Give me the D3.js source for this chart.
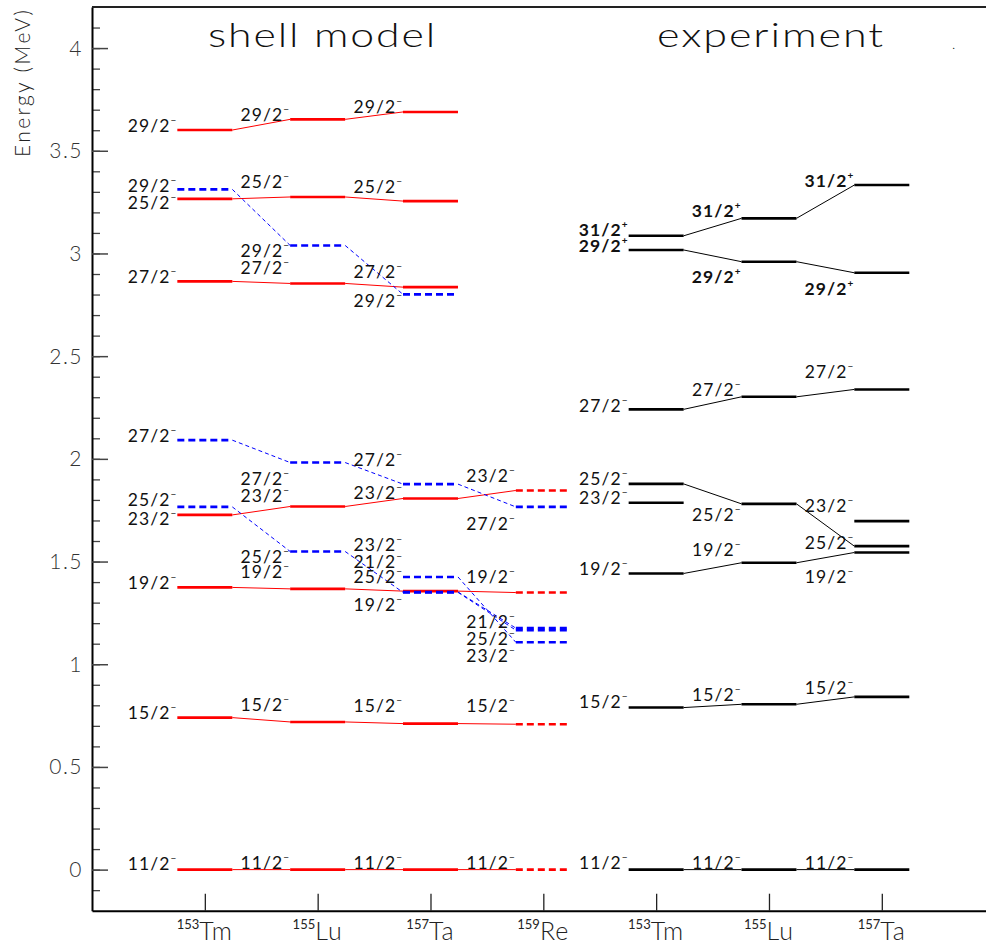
<!DOCTYPE html>
<html>
<head>
<meta charset="utf-8">
<script src="https://cdn.jsdelivr.net/npm/d3@7"></script>
<style>
  html, body { margin: 0; padding: 0; background: #fff; }
  svg { display: block; }
  text { font-family: Lato, "Liberation Sans", sans-serif; font-weight: 300; fill: #111; }
</style>
</head>
<body>
<svg id="chart" width="986" height="943"></svg>
<script>
// Nuclei along the horizontal axis
const modelMass = [153, 155, 157, 159];
const modelSymbol = ["Tm", "Lu", "Ta", "Re"];
const exptMass = [153, 155, 157];
const exptSymbol = ["Tm", "Lu", "Ta"];

// Energy axis ticks (MeV)
const energyTicks = [0, 0.5, 1, 1.5, 2, 2.5, 3, 3.5, 4];

// Shell-model level energies (MeV) for 153Tm, 155Lu, 157Ta, 159Re — first branch
const sm11 = [0, 0, 0, 0];
const sm15 = [0.740, 0.719, 0.711, 0.708];
const sm19 = [1.374, 1.367, 1.356, 1.349];
const sm23 = [1.727, 1.768, 1.807, 1.846];
const sm27 = [2.864, 2.854, 2.836, null];
const sm25 = [3.266, 3.275, 3.255, null];
const sm29 = [3.601, 3.653, 3.689, null];
// Shell-model level energies (MeV) — second branch
const smB29 = [3.312, 3.039, 2.801, null];
const smB27 = [2.091, 1.982, 1.877, 1.766];
const smB25 = [1.766, 1.549, 1.350, 1.166];
const smB23 = [null, null, 1.425, 1.107];
const smB21 = [null, null, 1.352, 1.176];

// Measured level energies (MeV) for 153Tm, 155Lu, 157Ta
const ex11 = [0, 0, 0];
const ex15 = [0.789, 0.805, 0.841];
const ex19 = [1.442, 1.494, 1.544];
const ex23 = [1.786, null, 1.697];
const ex25 = [1.878, 1.781, 1.575];
const ex27 = [2.241, 2.302, 2.338];
const ex29p = [3.017, 2.960, 2.906];
const ex31p = [3.086, 3.171, 3.333];

// Band tables built from the arrays above
const modelBands = [
  { id: "sm11", spin: "11/2", parity: "-", values: sm11, branch: 1 },
  { id: "sm15", spin: "15/2", parity: "-", values: sm15, branch: 1 },
  { id: "sm19", spin: "19/2", parity: "-", values: sm19, branch: 1 },
  { id: "sm23", spin: "23/2", parity: "-", values: sm23, branch: 1 },
  { id: "sm27", spin: "27/2", parity: "-", values: sm27, branch: 1 },
  { id: "sm25", spin: "25/2", parity: "-", values: sm25, branch: 1 },
  { id: "sm29", spin: "29/2", parity: "-", values: sm29, branch: 1 },
  { id: "smB29", spin: "29/2", parity: "-", values: smB29, branch: 2 },
  { id: "smB27", spin: "27/2", parity: "-", values: smB27, branch: 2 },
  { id: "smB25", spin: "25/2", parity: "-", values: smB25, branch: 2 },
  { id: "smB23", spin: "23/2", parity: "-", values: smB23, branch: 2 },
  { id: "smB21", spin: "21/2", parity: "-", values: smB21, branch: 2 }
];
const exptBands = [
  { id: "ex11", spin: "11/2", parity: "-", values: ex11 },
  { id: "ex15", spin: "15/2", parity: "-", values: ex15 },
  { id: "ex19", spin: "19/2", parity: "-", values: ex19 },
  { id: "ex23", spin: "23/2", parity: "-", values: ex23 },
  { id: "ex25", spin: "25/2", parity: "-", values: ex25 },
  { id: "ex27", spin: "27/2", parity: "-", values: ex27 },
  { id: "ex29p", spin: "29/2", parity: "+", values: ex29p },
  { id: "ex31p", spin: "31/2", parity: "+", values: ex31p }
];

// ---------- layout ----------
const svg = d3.select("#chart");
const frame = { left: 92, top: 7, bottom: 910.7, right: 986 };
const step = 112.83;
const x = d3.scaleLinear().domain([-1, 7]).range([frame.left, frame.left + 8 * step]);
const y = d3.scaleLinear().domain([-0.2, 4.2]).range([frame.bottom, frame.top]);
const halfBar = 27.5;
const exptOffset = 4;            // experimental columns follow the four shell-model columns

// Vertical placement of each spin label relative to its level (px; label centre minus level)
const labelLift = {
  "sm29|0": -5, "smB29|0": -4, "sm25|0": 4, "sm27|0": -5, "smB27|0": -5, "smB25|0": -7, "sm23|0": 4,
  "sm19|0": -5, "sm15|0": -5, "sm11|0": -6,
  "sm29|1": -5, "sm25|1": -15, "smB29|1": 5, "sm27|1": -16, "smB27|1": 16, "sm23|1": -11, "smB25|1": 5,
  "sm19|1": -17, "sm15|1": -17, "sm11|1": -7,
  "sm29|2": -5, "sm25|2": -15, "sm27|2": -16, "smB29|2": 6, "smB27|2": -25, "sm23|2": -6,
  "smB23|2": -32, "smB21|2": -30, "smB25|2": -16, "sm19|2": 13, "sm15|2": -18, "sm11|2": -7,
  "sm23|3": -15, "smB27|3": 17, "sm19|3": -16, "smB21|3": -7, "smB25|3": 8, "smB23|3": 13,
  "sm15|3": -19, "sm11|3": -7,
  "ex31p|0": -6, "ex29p|0": -4, "ex27|0": -4, "ex25|0": -5, "ex23|0": -5, "ex19|0": -5, "ex15|0": -6, "ex11|0": -7,
  "ex31p|1": -8, "ex29p|1": 15, "ex27|1": -7, "ex25|1": 11, "ex19|1": -13, "ex15|1": -10, "ex11|1": -7,
  "ex31p|2": -5, "ex29p|2": 16, "ex27|2": -18, "ex23|2": -16, "ex25|2": -4, "ex19|2": 24, "ex15|2": -9, "ex11|2": -7
};

// ---------- axes ----------
// minor energy ticks every 0.1 MeV, pointing into the frame
const minorTicks = d3.range(-1, 42).map(k => k / 10);
svg.append("g")
  .attr("transform", `translate(${frame.left},0)`)
  .call(d3.axisRight(y).tickValues(minorTicks).tickSize(8).tickFormat(""))
  .call(g => g.select(".domain").remove())
  .selectAll("line").attr("stroke", "#444").attr("stroke-width", 1.3);

// major energy ticks with labels on the outside
const yAxis = svg.append("g")
  .attr("transform", `translate(${frame.left},0)`)
  .call(d3.axisRight(y).tickValues(energyTicks).tickSize(16).tickSizeOuter(0).tickFormat(""));
yAxis.select(".domain").attr("stroke", "#000").attr("stroke-width", 2);
yAxis.selectAll(".tick line").attr("stroke", "#444").attr("stroke-width", 1.5);

svg.append("g").selectAll("text")
  .data(energyTicks)
  .join("text")
  .attr("x", 83)
  .attr("y", d => y(d))
  .attr("dy", "0.36em")
  .attr("text-anchor", "end")
  .attr("font-size", 21)
  .attr("letter-spacing", 1.5)
  .style("fill", "#333")
  .text(d => d3.format("")(d));

// horizontal axis: one tick per nucleus column
const xAxis = svg.append("g")
  .attr("transform", `translate(0,${frame.bottom})`)
  .call(d3.axisTop(x).tickValues(d3.range(0, 7)).tickSize(17).tickSizeOuter(0).tickFormat(""));
xAxis.select(".domain").attr("stroke", "#000").attr("stroke-width", 2);
xAxis.selectAll(".tick line").attr("stroke", "#222").attr("stroke-width", 1.3);

// top edge of the frame
svg.append("line")
  .attr("x1", frame.left).attr("x2", frame.right)
  .attr("y1", frame.top).attr("y2", frame.top)
  .attr("stroke", "#222").attr("stroke-width", 2);

// nucleus names under the axis
const nucleusLabels = modelMass.map((m, i) => ({ col: i, mass: m, sym: modelSymbol[i] }))
  .concat(exptMass.map((m, i) => ({ col: exptOffset + i, mass: m, sym: exptSymbol[i] })));
const nl = svg.append("g").selectAll("text")
  .data(nucleusLabels)
  .join("text")
  .attr("x", d => x(d.col))
  .attr("y", 939.5)
  .attr("text-anchor", "middle")
  .style("fill", "#222");
nl.append("tspan").attr("font-size", 13).attr("dy", -11).style("font-weight", 400).text(d => d.mass);
nl.append("tspan").attr("font-size", 25).attr("dy", 11).attr("letter-spacing", 1).text(d => d.sym);

// axis title
svg.append("text")
  .attr("transform", "translate(30,10) rotate(-90)")
  .attr("text-anchor", "end")
  .attr("font-size", 21)
  .attr("textLength", 147)
  .attr("lengthAdjust", "spacing")
  .style("fill", "#222")
  .text("Energy (MeV)");

// panel titles
svg.append("text").attr("x", 208).attr("y", 47).attr("font-size", 34)
  .attr("letter-spacing", 1.5)
  .attr("textLength", 229).attr("lengthAdjust", "spacingAndGlyphs").text("shell model");
svg.append("text").attr("x", 657).attr("y", 47).attr("font-size", 34)
  .attr("letter-spacing", 1.5)
  .attr("textLength", 228).attr("lengthAdjust", "spacingAndGlyphs").text("experiment");
svg.append("text").attr("x", 952).attr("y", 49).attr("font-size", 14).text(".");

// ---------- level scheme ----------
function levelStyle(set, band, col) {
  if (set === "expt") return { color: "#000", barDash: null, linkDash: null };
  if (band.branch === 2) return { color: "#0000ff", barDash: "7,4", linkDash: "4,3" };
  return { color: "#ff0000", barDash: col === 3 ? "7,4" : null, linkDash: null };
}

function drawSet(set, bands, colOffset) {
  const links = svg.append("g");
  const bars = svg.append("g");
  const labels = svg.append("g");
  bands.forEach(band => {
    const v = band.values;
    v.forEach((e, c) => {
      if (e === null) return;
      const st = levelStyle(set, band, c);
      const cx = x(colOffset + c);
      // connector to the same level in the next nucleus
      if (c + 1 < v.length && v[c + 1] !== null) {
        const st2 = levelStyle(set, band, c + 1);
        links.append("line")
          .attr("x1", cx + halfBar).attr("y1", y(e))
          .attr("x2", x(colOffset + c + 1) - halfBar).attr("y2", y(v[c + 1]))
          .attr("stroke", st2.color)
          .attr("stroke-width", 1)
          .attr("stroke-dasharray", st.linkDash);
      }
      bars.append("line")
        .datum(band)
        .attr("class", "branch" + (band.branch || 0))
        .attr("x1", cx - halfBar).attr("x2", cx + halfBar)
        .attr("y1", y(e)).attr("y2", y(e))
        .attr("stroke", st.color)
        .attr("stroke-width", 2.6)
        .attr("stroke-dasharray", st.barDash);
      // spin-parity label to the left of the level
      const lift = labelLift[band.id + "|" + c] ?? -5;
      const t = labels.append("text")
        .attr("x", cx - halfBar - 1)
        .attr("y", y(e) + lift + 6.5)
        .attr("text-anchor", "end")
        .attr("font-size", 17.5)
        .attr("letter-spacing", 1.1)
        .style("fill", "#111")
        .style("font-weight", band.parity === "+" ? 700 : 400);
      t.append("tspan").text(band.spin);
      t.append("tspan")
        .attr("font-size", 10)
        .attr("dy", -8)
        .attr("letter-spacing", 0)
        .text(band.parity === "+" ? "+" : "\u2212");
    });
  });
  // second-branch levels are drawn above the first branch
  bars.selectAll("line.branch2").raise();
}

drawSet("model", modelBands, 0);
drawSet("expt", exptBands, exptOffset);
</script>
</body>
</html>
